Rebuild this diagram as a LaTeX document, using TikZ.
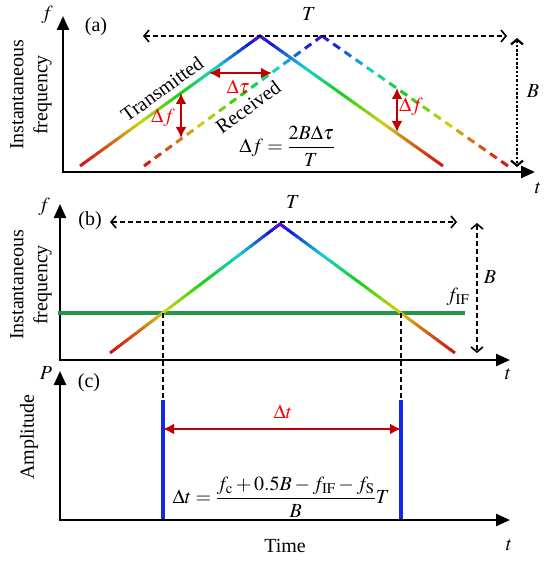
\documentclass[tikz,border=0pt]{standalone}
\usepackage{mathptmx}
\usepackage{fontspec}
\setmainfont{Liberation Serif}
\usetikzlibrary{arrows.meta, positioning, calc}
\definecolor{arrred}{RGB}{192,0,0}
\definecolor{ifgreen}{RGB}{34,150,70}
\definecolor{beatblue}{RGB}{20,40,235}
\tikzset{lbl/.style={font=\fontsize{20}{24}\selectfont,inner sep=0pt},
  axis/.style={line width=2.4pt,{Triangle[length=14pt,width=12pt]}-{Triangle[length=14pt,width=12pt]}},
  span/.style={line width=1.6pt,dash pattern=on 5pt off 3pt,{Straight Barb[length=5pt,width=12pt]}-{Straight Barb[length=5pt,width=12pt]}},
  spandot/.style={span,line width=2.2pt,dash pattern=on 2.5pt off 1.8pt},
  gap/.style={line width=2.4pt,arrred,{Latex[length=11pt,width=11pt]}-{Latex[length=11pt,width=11pt]}},
  redlbl/.style={lbl,text=red},
  vdash/.style={line width=1.6pt,dash pattern=on 5pt off 3pt},
  pulse/.style={line width=3.5pt,beatblue}}
% rainbow chirp from low end #1 to peak #2
\newcommand{\rampline}[2]{%
  \foreach \i in {0,...,39}{%
    \pgfmathsetmacro\hu{0.72*((\i+0.5)/40)^1.3}%
    \definecolor{segc}{hsb}{\hu,0.9,0.82}%
    \draw[segc,line width=3pt] ($(#1)!{\i/40}!(#2)$) -- ($(#1)!{min(1,(\i+1.1)/40)}!(#2)$);}}
\newcommand{\rampdash}[2]{%
  \foreach \i in {0,...,16}{%
    \pgfmathsetmacro\hu{0.72*((\i+0.3)/16.6)^1.3}%
    \definecolor{segc}{hsb}{\hu,0.9,0.82}%
    \draw[segc,line width=3pt] ($(#1)!{\i/16.6}!(#2)$) -- ($(#1)!{(\i+0.6)/16.6}!(#2)$);}}
\definecolor{peakc}{hsb}{0.72,0.9,0.82}

\begin{document}
\begin{tikzpicture}[x=1pt,y=-1pt]
\useasboundingbox (0,0) rectangle (550,564);
% (a) transmitted and received
\coordinate (ay) at (63,16);
\coordinate (ao) at (63,172);
\coordinate (ax) at (535,172);
\draw[axis] (ay) -- (ao) -- (ax);
\node[lbl] (fa) at (47,15) {$f$};
\node[lbl] (ta) at (538,188) {$t$};
\node[lbl] (laba) at (96,27) {(a)};
\node[lbl,rotate=90,align=center] (ifa) at (31,95) {Instantaneous\\frequency};
\coordinate (ts) at (80,166);
\coordinate (tp) at (260,36);
\coordinate (te) at (443,166);
\coordinate (rs) at (144,166);
\coordinate (rp) at (322,36);
\coordinate (re) at (508,166);
\rampline{ts}{tp}
\rampline{te}{tp}
\draw[peakc,line width=3pt] ($(tp)!0.03!(ts)$) -- (tp) -- ($(tp)!0.03!(te)$);
\rampdash{rs}{rp}
\rampdash{re}{rp}
\node[lbl,rotate=36] (tx) at (162,89) {Transmitted};
\node[lbl,rotate=36] (rx) at (248,107) {Received};
\coordinate (tal) at (143,36);
\coordinate (tar) at (507,36);
\draw[span] (tal) -- (tar);
\node[lbl] (tlba) at (309,14) {$T$};
\coordinate (bat) at (517,38);
\coordinate (bab) at (517,167);
\draw[spandot] (bat) -- (bab);
\node[lbl] (blba) at (533,91) {$B$};
\coordinate (dt1) at (209,73);
\coordinate (dt2) at (272,73);
\draw[gap] (dt1) -- (dt2);
\node[redlbl] (dtau) at (238,87) {$\Delta\tau$};
\coordinate (df1) at (181,93);
\coordinate (df2) at (181,138);
\draw[gap] (df1) -- (df2);
\node[redlbl] (dfl) at (163,118) {$\Delta f$};
\coordinate (df3) at (397,88);
\coordinate (df4) at (397,132);
\draw[gap] (df3) -- (df4);
\node[redlbl] (dfr) at (411,107) {$\Delta f$};
\node[lbl] (eqa) at (287,146) {$\Delta f=\displaystyle\frac{2B\Delta\tau}{T}$};
% (b) dechirp
\coordinate (by) at (60,204);
\coordinate (bo) at (60,360);
\coordinate (bx) at (510,360);
\draw[axis] (by) -- (bo) -- (bx);
\node[lbl] (fb) at (44,207) {$f$};
\node[lbl] (tb) at (508,374) {$t$};
\node[lbl] (labb) at (90,221) {(b)};
\node[lbl,rotate=90,align=center] (ifb) at (31,285) {Instantaneous\\frequency};
\coordinate (gl) at (58,313);
\coordinate (gr) at (465,313);
\draw[ifgreen,line width=3.5pt] (gl) -- (gr);
\node[lbl] (fif) at (458,297) {$f_{\mathrm{IF}}$};
\coordinate (bs) at (110,353);
\coordinate (bp) at (280,224);
\coordinate (be) at (455,353);
\rampline{bs}{bp}
\rampline{be}{bp}
\draw[peakc,line width=3pt] ($(bp)!0.03!(bs)$) -- (bp) -- ($(bp)!0.03!(be)$);
\coordinate (tbl) at (110,222);
\coordinate (tbr) at (457,222);
\draw[span] (tbl) -- (tbr);
\node[lbl] (tlbb) at (293,202) {$T$};
\coordinate (bbt) at (477,223);
\coordinate (bbb) at (477,353);
\draw[span] (bbt) -- (bbb);
\node[lbl] (blbb) at (490,277) {$B$};
\coordinate (x1) at (163,313);
\coordinate (x2) at (401,313);
% (c) beat pulses
\coordinate (p1t) at (163,400);
\coordinate (p1b) at (163,520);
\coordinate (p2t) at (401,400);
\coordinate (p2b) at (401,520);
\draw[vdash] (x1) -- (p1t);
\draw[vdash] (x2) -- (p2t);
\draw[pulse] (p1t) -- (p1b);
\draw[pulse] (p2t) -- (p2b);
\coordinate (cy) at (60,371);
\coordinate (co) at (60,520);
\coordinate (cx) at (510,520);
\draw[axis] (cy) -- (co) -- (cx);
\node[lbl] (pc) at (46,373) {$P$};
\node[lbl] (labc) at (89,383) {(c)};
\node[lbl] (tc) at (509,545) {$t$};
\node[lbl] (time) at (285,546) {Time};
\node[lbl,rotate=90] (amp) at (29,437) {Amplitude};
\coordinate (dl) at (163,429);
\coordinate (dr) at (401,429);
\draw[gap] (dl) -- (dr);
\node[redlbl] (dtl) at (283,412) {$\Delta t$};
\node[lbl] (eqc) at (281,497) {$\Delta t=\displaystyle\frac{f_{\mathrm{c}}+0.5B-f_{\mathrm{IF}}-f_{\mathrm{S}}}{B}T$};
\end{tikzpicture}
\end{document}
